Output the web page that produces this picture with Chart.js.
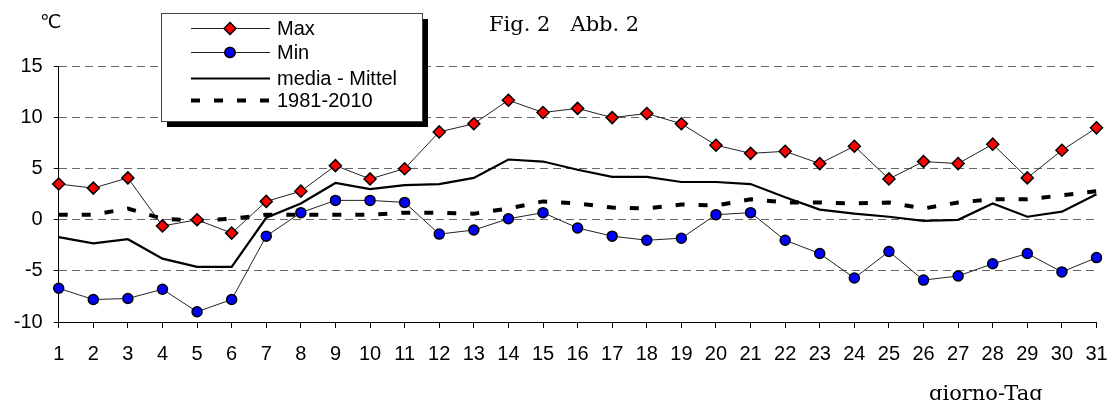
<!DOCTYPE html>
<html lang="it">
<head>
<meta charset="UTF-8">
<title>Fig. 2 Abb. 2</title>
<script src="https://cdn.jsdelivr.net/npm/chart.js@4/dist/chart.umd.min.js"></script>
<style>
  body { margin: 0; background: #fff; }
  .wrap { position: relative; width: 1109px; height: 400px; overflow: hidden; }
  .wrap canvas { position: absolute; left: 0; top: 0; }
  .lbl { position: absolute; white-space: pre; color: #000; line-height: 1; }
  .unit { left: 40px; top: 10px; font: 19px "DejaVu Sans", sans-serif; }
  .title { left: 489px; top: 12px; font: 21px "DejaVu Serif", serif; }
  .xtitle { left: 929px; top: 381px; font: 21px "DejaVu Serif", serif; }
</style>
</head>
<body>
<div class="wrap">
  <canvas id="chart" width="1109" height="400"></canvas>
  <div class="lbl unit">℃</div>
  <div class="lbl title">Fig. 2   Abb. 2</div>
  <div class="lbl xtitle">giorno-Tag</div>
</div>

<script>
  const days = ['1', '2', '3', '4', '5', '6', '7', '8', '9', '10', '11', '12', '13', '14', '15', '16',
    '17', '18', '19', '20', '21', '22', '23', '24', '25', '26', '27', '28', '29', '30', '31'];

  const tMax = [3.5, 3.1, 4.1, -0.6, 0.0, -1.3, 1.8, 2.8, 5.3, 4.0, 5.0, 8.6, 9.4, 11.7, 10.5, 10.9,
    10.0, 10.4, 9.4, 7.3, 6.5, 6.7, 5.5, 7.2, 4.0, 5.7, 5.5, 7.4, 4.1, 6.8, 9.0];

  const tMin = [-6.7, -7.8, -7.7, -6.8, -9.0, -7.8, -1.6, 0.7, 1.9, 1.9, 1.7, -1.4, -1.0, 0.1, 0.7, -0.8,
    -1.6, -2.0, -1.8, 0.5, 0.7, -2.0, -3.3, -5.7, -3.1, -5.9, -5.5, -4.3, -3.3, -5.1, -3.7];

  const tMean = [-1.7, -2.3, -1.9, -3.8, -4.6, -4.6, 0.2, 1.6, 3.6, 3.0, 3.4, 3.5, 4.1, 5.9, 5.7, 4.9,
    4.2, 4.2, 3.7, 3.7, 3.5, 2.2, 1.0, 0.6, 0.3, -0.1, 0.0, 1.6, 0.3, 0.8, 2.5];

  const tNorm = [0.5, 0.5, 1.1, 0.1, -0.1, 0.1, 0.5, 0.5, 0.5, 0.5, 0.7, 0.7, 0.6, 1.1, 1.8, 1.6,
    1.2, 1.1, 1.5, 1.4, 2.0, 1.7, 1.7, 1.6, 1.7, 1.1, 1.7, 2.0, 2.0, 2.4, 2.8];

  const yTicks = { min: -10, max: 15, step: 5 };

  const font = { family: '"Liberation Sans", Arial, sans-serif', size: 20 };

  // legend box drawn inside the plot, with the Excel-style shadow
  const legendBox = {
    id: 'legendBox',
    afterDraw(chart) {
      const ctx = chart.ctx;
      const box = { x: 161.5, y: 13.5, w: 261, h: 108, shadow: 5.5 };
      const rows = [28.5, 52.5, 78.5, 100.5];
      const lineX0 = 191, lineX1 = 270, markX = 230, textX = 277;

      ctx.save();
      ctx.fillStyle = '#000';
      ctx.fillRect(box.x + box.shadow, box.y + box.shadow, box.w, box.h);
      ctx.fillStyle = '#fff';
      ctx.fillRect(box.x, box.y, box.w, box.h);
      ctx.strokeStyle = '#444';
      ctx.lineWidth = 1;
      ctx.strokeRect(box.x, box.y, box.w, box.h);

      chart.data.datasets.forEach((ds, i) => {
        const y = rows[i];
        ctx.save();
        ctx.strokeStyle = ds.borderColor;
        ctx.lineWidth = ds.borderWidth;
        ctx.setLineDash(ds.borderDash || []);
        ctx.beginPath();
        ctx.moveTo(lineX0, y);
        ctx.lineTo(lineX1, y);
        ctx.stroke();
        ctx.restore();

        if (ds.pointRadius > 0) {
          Chart.helpers.drawPoint(ctx, {
            pointStyle: ds.pointStyle,
            radius: ds.pointRadius,
            borderWidth: ds.pointBorderWidth,
            rotation: 0
          }, markX, y);
          ctx.fillStyle = ds.pointBackgroundColor;
          ctx.strokeStyle = ds.pointBorderColor;
          ctx.lineWidth = ds.pointBorderWidth;
          ctx.fill();
          ctx.stroke();
        }

        ctx.fillStyle = '#000';
        ctx.font = `${font.size}px ${font.family}`;
        ctx.textAlign = 'left';
        ctx.textBaseline = 'middle';
        ctx.fillText(ds.label, textX, y + 1);
      });
      ctx.restore();
    }
  };

  const config = {
    type: 'line',
    data: {
      labels: days,
      datasets: [{
        label: 'Max',
        data: tMax,
        borderColor: '#222',
        borderWidth: 1,
        pointStyle: 'rectRot',
        pointRadius: 6,
        pointBorderWidth: 1.5,
        pointBackgroundColor: '#ff0000',
        pointBorderColor: '#000'
      }, {
        label: 'Min',
        data: tMin,
        borderColor: '#222',
        borderWidth: 1,
        pointStyle: 'circle',
        pointRadius: 5,
        pointBorderWidth: 1.5,
        pointBackgroundColor: '#0000ff',
        pointBorderColor: '#000'
      }, {
        label: 'media - Mittel',
        data: tMean,
        borderColor: '#000',
        borderWidth: 2.2,
        pointRadius: 0
      }, {
        label: '1981-2010',
        data: tNorm,
        borderColor: '#000',
        borderWidth: 4,
        borderDash: [9, 14],
        borderCapStyle: 'butt',
        pointRadius: 0
      }]
    },
    options: {
      responsive: false,
      animation: false,
      events: [],
      layout: { padding: { top: 66.5, right: 12.5, left: 0, bottom: 0 } },
      elements: { line: { tension: 0 } },
      plugins: {
        legend: { display: false },
        tooltip: { enabled: false }
      },
      scales: {
        x: {
          grid: { drawOnChartArea: false, tickLength: 6, color: '#000', tickColor: '#000' },
          border: { color: '#000', width: 1 },
          ticks: { font, color: '#000', padding: 14, maxRotation: 0, autoSkip: false },
          afterFit: (s) => {
            s.height = 78;
            // keep the plot edge where the reference has it, labels may overhang
            s.paddingLeft = 0;
            s.paddingRight = 0;
          }
        },
        y: {
          min: yTicks.min,
          max: yTicks.max,
          ticks: { stepSize: yTicks.step, font, color: '#000', padding: 11 },
          grid: {
            color: (c) => (c.tick && c.tick.value === yTicks.min ? 'rgba(0,0,0,0)' : '#666'),
            tickColor: '#000',
            tickLength: 5,
            tickBorderDash: []
          },
          border: { color: '#000', width: 1, dash: [8, 5] },
          afterFit: (s) => { s.width = 58.7; }
        }
      }
    },
    plugins: [legendBox]
  };

  new Chart(document.getElementById('chart'), config);
</script>
</body>
</html>
